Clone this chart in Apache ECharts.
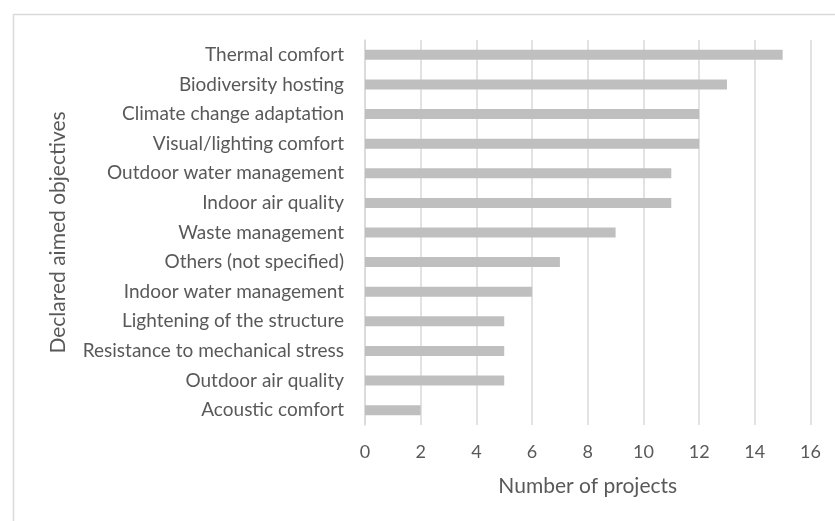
<!DOCTYPE html>
<html>
<head>
<meta charset="utf-8">
<script src="https://cdn.jsdelivr.net/npm/echarts@6/dist/echarts.min.js"></script>
<style>
  html, body { margin: 0; padding: 0; background: #fff; }
  #chart { width: 835px; height: 521px; }
</style>
</head>
<body>
<div id="chart"></div>
<script>
// categories listed bottom -> top (category axis starts at the bottom)
var categories = [
  "Acoustic comfort",
  "Outdoor air quality",
  "Resistance to mechanical stress",
  "Lightening of the structure",
  "Indoor water management",
  "Others (not specified)",
  "Waste management",
  "Indoor air quality",
  "Outdoor water management",
  "Visual/lighting comfort",
  "Climate change adaptation",
  "Biodiversity hosting",
  "Thermal comfort"
];
var projectCounts = [2, 5, 5, 5, 6, 7, 9, 11, 11, 12, 12, 13, 15];
var xTicks = [0, 2, 4, 6, 8, 10, 12, 14, 16];

var textColor = "#595959";
var gridColor = "#d9d9d9";
var fontName = "Lato";

var myChart = echarts.init(document.getElementById("chart"));
myChart.setOption({
  animation: false,
  textStyle: { fontFamily: fontName },
  grid: { left: 365, right: 24.5, top: 40, bottom: 96 },
  graphic: [
    {
      type: "rect",
      shape: { x: 13.5, y: 14.5, width: 840, height: 540 },
      style: { fill: null, stroke: "#d9d9d9", lineWidth: 1.5 }
    }
  ],
  xAxis: {
    type: "value",
    min: xTicks[0],
    max: xTicks[xTicks.length - 1],
    interval: 2,
    name: "Number of projects",
    nameLocation: "middle",
    nameGap: 51,
    nameTextStyle: { color: textColor, fontSize: 21, fontFamily: fontName },
    axisLine: { show: false },
    axisTick: { show: false },
    axisLabel: { color: textColor, fontSize: 18, margin: 18 },
    splitLine: { lineStyle: { color: gridColor, width: 1.5 } }
  },
  yAxis: {
    type: "category",
    data: categories,
    name: "Declared aimed objectives",
    nameLocation: "middle",
    nameGap: 296,
    nameTextStyle: { color: textColor, fontSize: 21, fontFamily: fontName },
    axisLine: { show: true, lineStyle: { color: gridColor, width: 1.5 } },
    axisTick: { show: false },
    axisLabel: { color: textColor, fontSize: 19, margin: 21 }
  },
  series: [
    {
      type: "bar",
      data: projectCounts,
      barWidth: 10,
      itemStyle: { color: "#bfbfbf" }
    }
  ]
});
</script>
</body>
</html>
